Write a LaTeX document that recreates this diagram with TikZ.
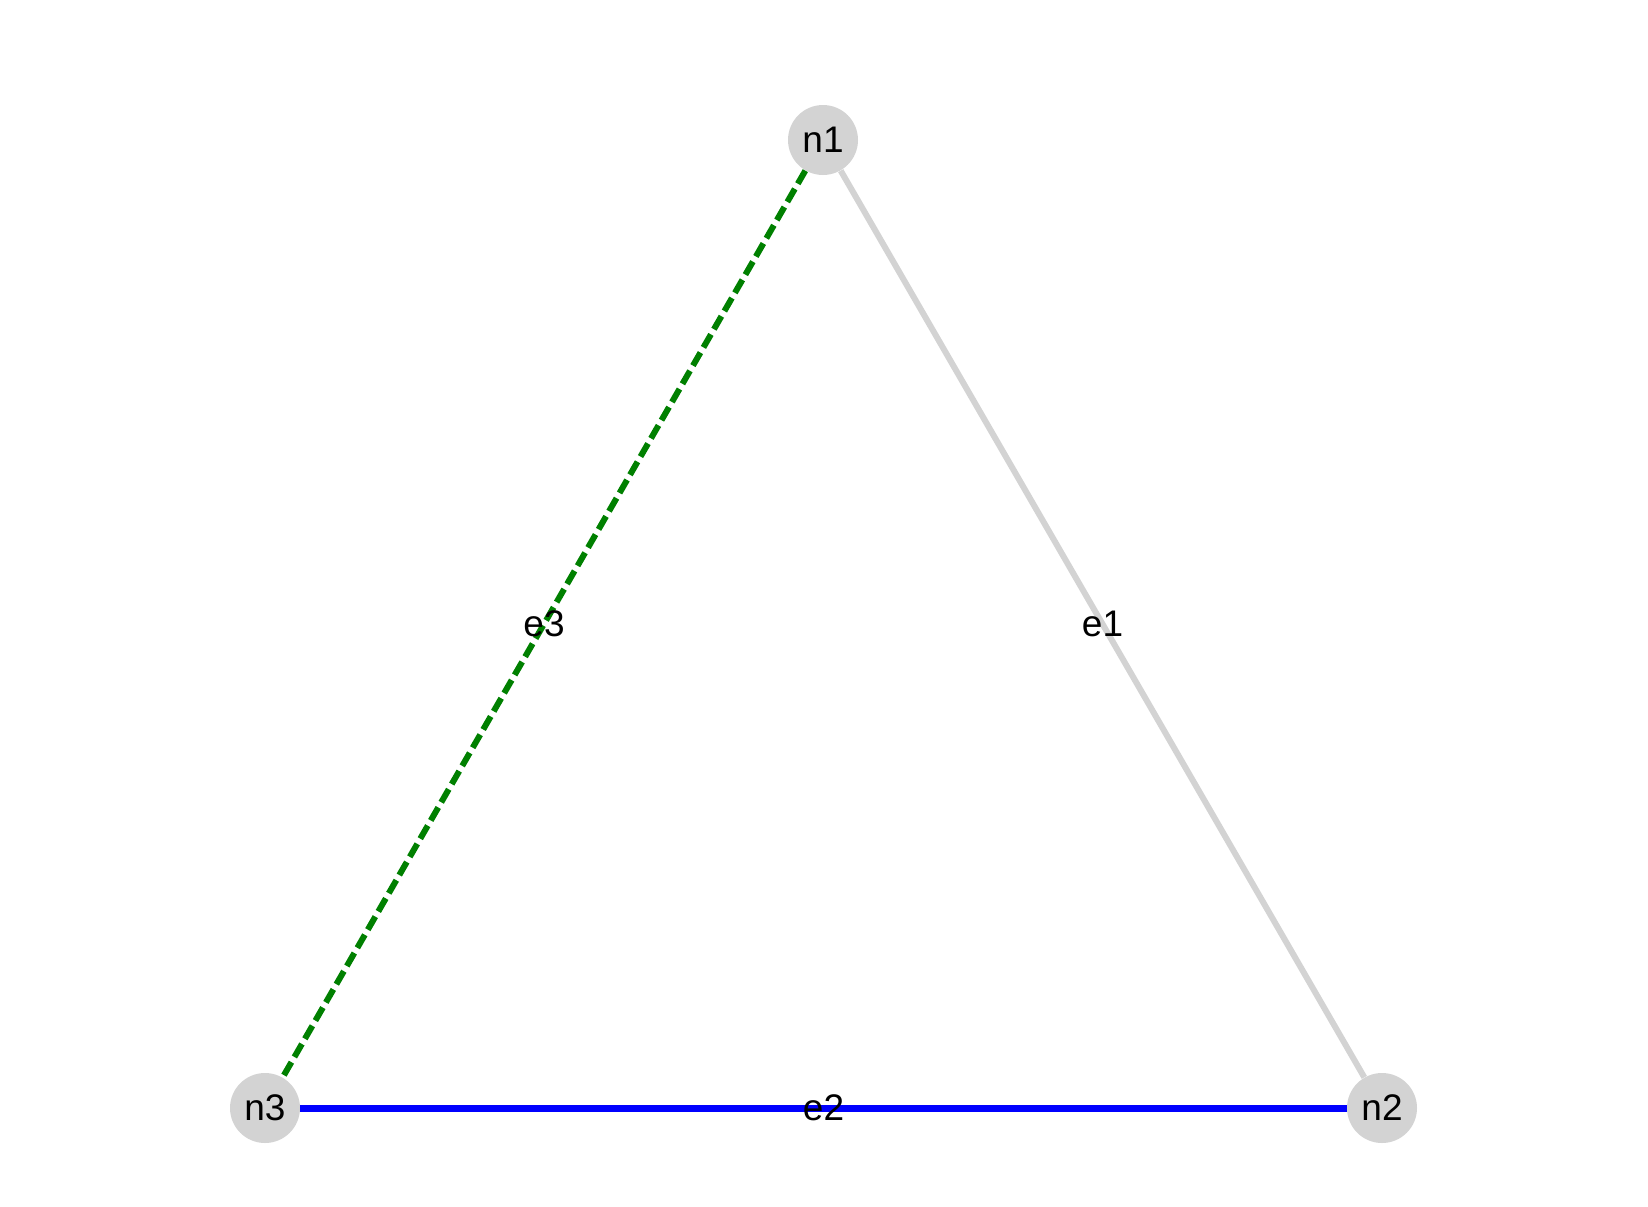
\documentclass[tikz,border=0pt]{standalone}
\usepackage{fontspec}
\setmainfont{Liberation Sans}
\definecolor{nodegray}{HTML}{D3D3D3}
\definecolor{edgegreen}{HTML}{008000}
\definecolor{edgeblue}{HTML}{0000FF}
\begin{document}
\begin{tikzpicture}[x=0.5pt,y=-0.5pt,
    vertex/.style={circle, fill=nodegray, minimum size=35pt, inner sep=0pt, font=\fontsize{18.5}{20}\selectfont},
    elabel/.style={font=\fontsize{18.5}{20}\selectfont, inner sep=0pt}]
        \useasboundingbox (0,0) rectangle (1648,1206);

        % Nodes
        \node[vertex] (n1) at (823,140) {n1};
        \node[vertex] (n2) at (1382,1108) {n2};
        \node[vertex] (n3) at (265,1108) {n3};

        % Edges
        \draw[nodegray, line width=3pt] (n1) -- (n2) node[midway, elabel, text=black] {e1};
        \draw[edgeblue, line width=3.5pt] (n3) -- (n2) node[midway, elabel, text=black] {e2};
        \draw[edgegreen, line width=3pt, dash pattern=on 7.5pt off 3pt] (n1) -- (n3) node[midway, elabel, text=black] {e3};

\end{tikzpicture}
\end{document}
